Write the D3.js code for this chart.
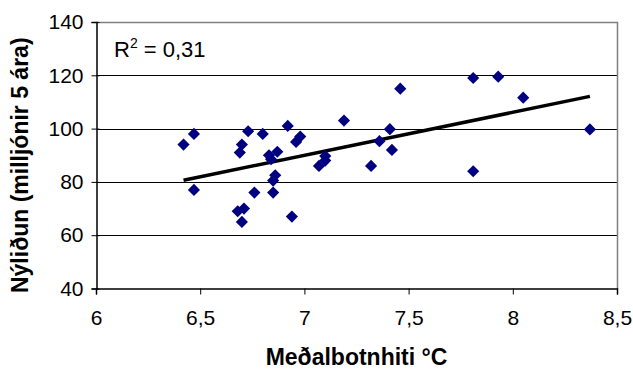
<!DOCTYPE html>
<html>
<head>
<meta charset="utf-8">
<script src="https://cdn.jsdelivr.net/npm/d3@7/dist/d3.min.js"></script>
<style>
  html, body { margin: 0; padding: 0; background: #fff; }
  svg { display: block; font-family: "Liberation Sans", Arial, sans-serif; }
</style>
</head>
<body>
<svg id="chart" width="633" height="372"></svg>
<script>
// Mean bottom temperature (°C) for each year class
const temperature = [
  6.42, 6.47, 6.47, 6.68, 6.69, 6.70, 6.70, 6.71, 6.73, 6.76,
  6.80, 6.83, 6.84, 6.85, 6.85, 6.86, 6.87, 6.92, 6.94, 6.96,
  6.98, 7.07, 7.10, 7.10, 7.19, 7.32, 7.36, 7.41, 7.42, 7.46,
  7.81, 7.81, 7.93, 8.05, 8.37
];
// Recruitment of 5-year-olds (millions)
const recruitment = [
  94, 98, 77, 69, 91, 94, 65, 70, 99, 76,
  98, 90, 88.5, 76, 80.5, 82.5, 91.3, 101, 67, 95,
  97, 86, 88, 89.7, 103, 86, 95.3, 99.8, 92, 115,
  119, 84, 119.5, 111.6, 99.7
];
const xTicks = [6, 6.5, 7, 7.5, 8, 8.5];
const yTicks = [40, 60, 80, 100, 120, 140];
const rSquaredLabel = "0,31";

const svg = d3.select("#chart");
const plotLeft = 96, plotRight = 617, plotTop = 22, plotBottom = 288.5;

const x = d3.scaleLinear().domain([6, 8.5]).range([plotLeft, plotRight]);
const y = d3.scaleLinear().domain([40, 140]).range([plotBottom, plotTop]);
const fmt = d => String(d).replace(".", ",");

// horizontal gridlines
svg.append("g").selectAll("line")
  .data(yTicks.filter(t => t > 40 && t < 140))
  .join("line")
  .attr("x1", plotLeft).attr("x2", plotRight)
  .attr("y1", d => Math.round(y(d)) + 0.5).attr("y2", d => Math.round(y(d)) + 0.5)
  .attr("stroke", "#000").attr("stroke-width", 1);

// plot frame: grey top and right edges
svg.append("path")
  .attr("d", `M${plotLeft},${plotTop + 0.5}H${plotRight + 0.5}V${plotBottom}`)
  .attr("fill", "none").attr("stroke", "#808080").attr("stroke-width", 1.5);

// y axis
const yAxis = svg.append("g").attr("transform", `translate(${plotLeft + 0.5},0)`)
  .call(d3.axisLeft(y).tickValues(yTicks).tickSize(5).tickPadding(8).tickFormat(fmt));
yAxis.selectAll(".tick line").attr("x2", -5).attr("x1", 3).attr("stroke", "#000");
yAxis.select(".domain").attr("stroke", "#000").attr("stroke-width", 1.5);
yAxis.selectAll("text").attr("font-size", 21).attr("fill", "#000")
  .attr("font-family", "Liberation Sans, Arial, sans-serif");

// x axis
const xAxis = svg.append("g").attr("transform", `translate(0,${plotBottom})`)
  .call(d3.axisBottom(x).tickValues(xTicks).tickSize(6).tickPadding(16).tickFormat(fmt));
xAxis.selectAll(".tick line").attr("stroke", "#000");
xAxis.select(".domain").attr("stroke", "#000").attr("stroke-width", 1.5);
xAxis.selectAll("text").attr("font-size", 21).attr("fill", "#000")
  .attr("font-family", "Liberation Sans, Arial, sans-serif");

// least-squares trend line over the observed temperature range
const mx = d3.mean(temperature), my = d3.mean(recruitment);
let sxy = 0, sxx = 0;
temperature.forEach((t, i) => { sxy += (t - mx) * (recruitment[i] - my); sxx += (t - mx) ** 2; });
const slope = sxy / sxx, intercept = my - slope * mx;
const [xmin, xmax] = d3.extent(temperature);
svg.append("line")
  .attr("x1", x(xmin)).attr("y1", y(intercept + slope * xmin))
  .attr("x2", x(xmax)).attr("y2", y(intercept + slope * xmax))
  .attr("stroke", "#000").attr("stroke-width", 3.5);

// data points as diamonds
const diamond = d3.symbol().type(d3.symbolSquare).size(74);
svg.append("g").selectAll("path")
  .data(temperature.map((t, i) => [t, recruitment[i]]))
  .join("path")
  .attr("d", diamond)
  .attr("transform", d => `translate(${x(d[0])},${y(d[1])}) rotate(45)`)
  .attr("fill", "#000080");

// R² annotation
const r2 = svg.append("text").attr("x", 114).attr("y", 57).attr("font-size", 22).attr("fill", "#000");
r2.append("tspan").text("R");
r2.append("tspan").attr("dy", -9).attr("font-size", 14).text("2");
r2.append("tspan").attr("dy", 9).text(" = " + rSquaredLabel);

// axis titles
svg.append("text")
  .attr("x", (plotLeft + plotRight) / 2).attr("y", 365)
  .attr("text-anchor", "middle").attr("font-size", 23).attr("font-weight", "bold")
  .text("Meðalbotnhiti °C");
svg.append("text")
  .attr("transform", `translate(28,${(plotTop + plotBottom) / 2 + 10}) rotate(-90)`)
  .attr("text-anchor", "middle").attr("font-size", 23).attr("font-weight", "bold")
  .text("Nýliðun (milljónir 5 ára)");
</script>
</body>
</html>
